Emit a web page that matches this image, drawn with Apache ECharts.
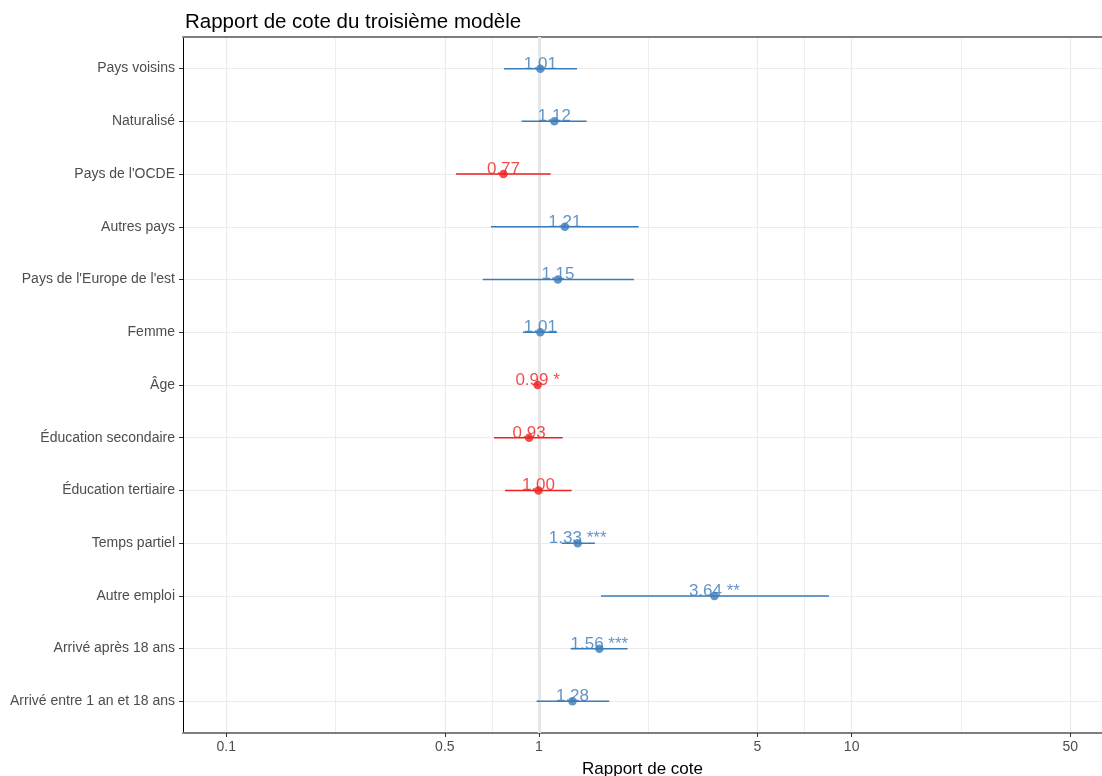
<!DOCTYPE html>
<html>
<head>
<meta charset="utf-8">
<script src="https://cdn.jsdelivr.net/npm/echarts@6/dist/echarts.min.js"></script>
<style>
  html, body { margin: 0; padding: 0; background: #fff; }
  #chart { width: 1102px; height: 776px; }
</style>
</head>
<body>
<div id="chart"></div>
<script>
// variables, de haut en bas
const categories = ['Pays voisins', 'Naturalisé', "Pays de l'OCDE", 'Autres pays', "Pays de l'Europe de l'est",
    'Femme', 'Âge', 'Éducation secondaire', 'Éducation tertiaire', 'Temps partiel', 'Autre emploi',
    'Arrivé après 18 ans', 'Arrivé entre 1 an et 18 ans'];
const oddsRatio = [1.01, 1.12, 0.77, 1.21, 1.15, 1.01, 0.99, 0.93, 0.996, 1.33, 3.64, 1.56, 1.28];
const ciLow = [0.773, 0.880, 0.543, 0.702, 0.661, 0.889, 0.98, 0.718, 0.779, 1.182, 1.579, 1.263, 0.983];
const ciHigh = [1.323, 1.420, 1.090, 2.084, 2.013, 1.142, 1.00, 1.191, 1.272, 1.510, 8.46, 1.921, 1.678];
const stars = ['', '', '', '', '', '', ' *', '', '', ' ***', ' **', ' ***', ''];
const xTicks = [0.1, 0.5, 1, 5, 10, 50];
const xMinorTicks = [0.2236, 0.7071, 2.236, 7.071, 22.36];

const BLUE = '#3A7BBA';
const RED = '#EE1F1F';
const FONT = '"Liberation Sans", Arial, sans-serif';
const colorOf = i => (oddsRatio[i] < 1 ? RED : BLUE);
const rowIdx = categories.map((_, i) => i);

const chart = echarts.init(document.getElementById('chart'));

const option = {
    animation: false,
    textStyle: { fontFamily: FONT },
    title: {
        text: 'Rapport de cote du troisième modèle',
        left: 180,
        top: 7,
        textStyle: { fontSize: 20.5, fontWeight: 'normal', color: '#000', fontFamily: FONT }
    },
    grid: { left: 183, right: 0, top: 37, bottom: 43, outerBoundsMode: 'none' },
    xAxis: [
        {
            type: 'log',
            position: 'bottom',
            min: 0.0727,
            max: 63.2,
            name: 'Rapport de cote',
            nameLocation: 'middle',
            nameGap: 28,
            nameTextStyle: { color: '#000', fontSize: 17, fontFamily: FONT },
            axisLine: { show: true, onZero: false, lineStyle: { color: '#7F7F7F', width: 2 } },
            axisTick: { show: true, customValues: xTicks, length: 4, lineStyle: { color: '#333' } },
            axisLabel: {
                customValues: xTicks,
                color: '#4D4D4D',
                fontSize: 14,
                margin: 7,
                formatter: v => String(+(+v).toPrecision(3))
            },
            splitLine: { show: true, lineStyle: { color: '#EBEBEB', width: 1.2 } }
        },
        {
            type: 'log',
            position: 'top',
            min: 0.0727,
            max: 63.2,
            axisLine: { show: true, onZero: false, lineStyle: { color: '#7F7F7F', width: 2 } },
            axisTick: { show: false, customValues: xMinorTicks },
            axisLabel: { show: false, customValues: xMinorTicks },
            splitLine: { show: true, lineStyle: { color: '#EEEEEE', width: 1 } }
        }
    ],
    yAxis: {
        type: 'value',
        inverse: true,
        min: -0.6,
        max: 12.6,
        axisLine: { show: true, onZero: false, lineStyle: { color: '#000', width: 1 } },
        axisTick: { show: true, customValues: rowIdx, length: 4, lineStyle: { color: '#333' } },
        axisLabel: {
            customValues: rowIdx,
            color: '#4D4D4D',
            fontSize: 14,
            margin: 8,
            formatter: v => categories[Math.round(v)] || ''
        },
        splitLine: { show: true, lineStyle: { color: '#EBEBEB', width: 1 } }
    },
    series: [
        {
            // ligne de référence à 1
            type: 'scatter',
            data: [],
            z: 1,
            markLine: {
                z: 1,
                silent: true,
                symbol: ['none', 'none'],
                label: { show: false },
                lineStyle: { color: '#E6E6E6', width: 3, type: 'solid' },
                data: [{ xAxis: 1 }]
            }
        },
        {
            // intervalles de confiance
            type: 'custom',
            z: 2,
            encode: { x: [0, 2], y: 1 },
            data: rowIdx.map(i => [ciLow[i], i, ciHigh[i]]),
            renderItem: (params, api) => {
                const i = api.value(1);
                const p1 = api.coord([api.value(0), i]);
                const p2 = api.coord([api.value(2), i]);
                return {
                    type: 'line',
                    shape: { x1: p1[0], y1: p1[1], x2: p2[0], y2: p2[1] },
                    style: { stroke: colorOf(params.dataIndex), lineWidth: 1.5 }
                };
            }
        },
        {
            type: 'scatter',
            z: 3,
            symbolSize: 8.5,
            data: rowIdx.map(i => ({
                value: [oddsRatio[i], i],
                itemStyle: { color: colorOf(i) },
                label: { color: colorOf(i) }
            })),
            label: {
                show: true,
                position: 'top',
                distance: -8,
                fontSize: 17,
                fontFamily: FONT,
                formatter: p => oddsRatio[p.dataIndex].toFixed(2) + stars[p.dataIndex]
            }
        }
    ]
};

chart.setOption(option);
</script>
</body>
</html>
